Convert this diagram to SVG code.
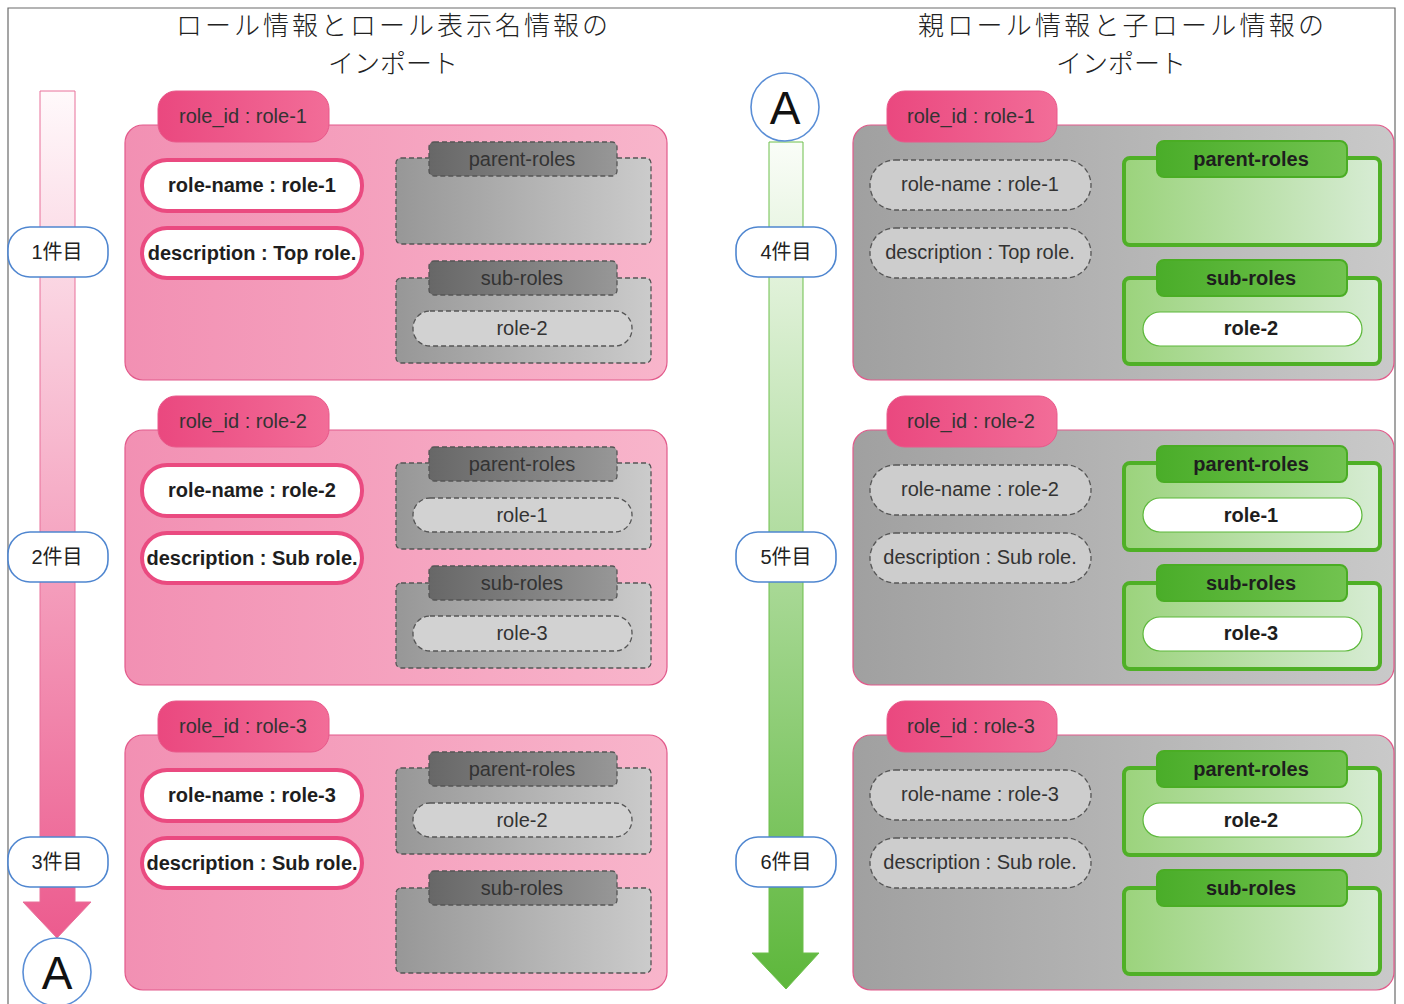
<svg xmlns="http://www.w3.org/2000/svg" width="1404" height="1004" viewBox="0 0 1404 1004">
<defs>
<linearGradient id="gPinkCard" x1="0" y1="0" x2="1" y2="0"><stop offset="0" stop-color="#f290b3"/><stop offset="1" stop-color="#f8b5cb"/></linearGradient>
<linearGradient id="gPinkTab" x1="0" y1="0" x2="1" y2="0"><stop offset="0" stop-color="#ea487f"/><stop offset="1" stop-color="#f26d98"/></linearGradient>
<linearGradient id="gGrayCard" x1="0" y1="0" x2="1" y2="0"><stop offset="0" stop-color="#a0a0a0"/><stop offset="1" stop-color="#c9c9c9"/></linearGradient>
<linearGradient id="gGrayBox" x1="0" y1="0" x2="1" y2="0"><stop offset="0" stop-color="#979797"/><stop offset="1" stop-color="#cbcbcb"/></linearGradient>
<linearGradient id="gGrayTab" x1="0" y1="0" x2="1" y2="0"><stop offset="0" stop-color="#676767"/><stop offset="1" stop-color="#979797"/></linearGradient>
<linearGradient id="gGreenBox" x1="0" y1="0" x2="1" y2="0"><stop offset="0" stop-color="#9bd37c"/><stop offset="1" stop-color="#d7ecd4"/></linearGradient>
<linearGradient id="gGreenTab" x1="0" y1="0" x2="1" y2="0"><stop offset="0" stop-color="#4aad29"/><stop offset="1" stop-color="#72c350"/></linearGradient>
<linearGradient id="gPinkArrow" gradientUnits="userSpaceOnUse" x1="0" y1="91" x2="0" y2="940"><stop offset="0" stop-color="#fff9fb"/><stop offset="1" stop-color="#ec5b8e"/></linearGradient>
<linearGradient id="gGreenArrow" gradientUnits="userSpaceOnUse" x1="0" y1="142" x2="0" y2="989"><stop offset="0" stop-color="#fafdf8"/><stop offset="1" stop-color="#5db73b"/></linearGradient>
<style>
.frame{fill:none;stroke:#6a6a6a;stroke-width:1.2}
.title{font-family:"Noto Sans CJK JP","Noto Sans",sans-serif;font-size:26px;font-weight:300;fill:#222;text-anchor:middle}
.t{font-family:"Liberation Sans",Arial,sans-serif;font-size:20px;fill:#333;text-anchor:middle}
.b{font-weight:bold;fill:#1e1e1e}
.jp{font-family:"Liberation Sans","Noto Sans CJK JP",sans-serif;font-size:20px;fill:#222;text-anchor:middle}
.bigA{font-family:"Liberation Sans",Arial,sans-serif;font-size:46px;fill:#111;text-anchor:middle}
.pinkCard{fill:url(#gPinkCard);stroke:#e25a8b;stroke-width:1.2}
.grayCard{fill:url(#gGrayCard);stroke:#e25a8b;stroke-width:1.2}
.pinkTab{fill:url(#gPinkTab);stroke:#e8588a;stroke-width:1}
.pinkPill{fill:#fff;stroke:#ea4a80;stroke-width:4}
.dashPill{fill:#cdcdcd;stroke:#555;stroke-width:1.3;stroke-dasharray:5 3}
.grayBox{fill:url(#gGrayBox);stroke:#555;stroke-width:1.3;stroke-dasharray:5 3}
.grayTab{fill:url(#gGrayTab);stroke:#555;stroke-width:1.3;stroke-dasharray:5 3}
.grayItem{fill:#d2d2d2;stroke:#555;stroke-width:1.3;stroke-dasharray:5 3}
.greenBox{fill:url(#gGreenBox);stroke:#4fb026;stroke-width:4}
.greenTab{fill:url(#gGreenTab);stroke:#4aad24;stroke-width:2}
.greenItem{fill:#fff;stroke:#5cb83a;stroke-width:1.2}
.label{fill:#fff;stroke:#4f86d0;stroke-width:1.6}
.circ{fill:#fff;stroke:#5a8ed6;stroke-width:1.6}
</style>
</defs>
<rect width="1404" height="1004" fill="#fff"/>
<path class="frame" d="M8,1004 V8 H1395 V1004"/>

<g id="title-left">
<text class="title" x="392" y="35" textLength="432" lengthAdjust="spacing">ロール情報とロール表示名情報の</text>
<text class="title" x="393" y="73">インポート</text>
</g>
<g id="title-right">
<text class="title" x="1121" y="35" textLength="406" lengthAdjust="spacing">親ロール情報と子ロール情報の</text>
<text class="title" x="1121" y="73">インポート</text>
</g>

<g id="connectors">
<path id="arrow-left" d="M40,91 H75 V902 H91 L57,938 L23,902 H40 Z" fill="url(#gPinkArrow)" stroke="#e8709a" stroke-width="1"/>
<path id="arrow-right" d="M769,142 H803 V953 H819 L786,989 L752,953 H769 Z" fill="url(#gGreenArrow)" stroke="#6cbf4b" stroke-width="1"/>
</g>

<g id="circle-A-bottom"><circle class="circ" cx="57" cy="972" r="34"/><text class="bigA" x="57" y="989">A</text></g>
<g id="circle-A-top"><circle class="circ" cx="785" cy="107" r="34"/><text class="bigA" x="785" y="124">A</text></g>

<g id="label-1"><rect class="label" x="8" y="227" width="100" height="50" rx="22"/><text class="jp" x="57" y="259">1件目</text></g>
<g id="label-2"><rect class="label" x="8" y="532" width="100" height="50" rx="22"/><text class="jp" x="57" y="564">2件目</text></g>
<g id="label-3"><rect class="label" x="8" y="837" width="100" height="50" rx="22"/><text class="jp" x="57" y="869">3件目</text></g>
<g id="label-4"><rect class="label" x="736" y="227" width="100" height="50" rx="22"/><text class="jp" x="786" y="259">4件目</text></g>
<g id="label-5"><rect class="label" x="736" y="532" width="100" height="50" rx="22"/><text class="jp" x="786" y="564">5件目</text></g>
<g id="label-6"><rect class="label" x="736" y="837" width="100" height="50" rx="22"/><text class="jp" x="786" y="869">6件目</text></g>

<!-- Left cards -->
<g id="left-role-1">
<rect class="pinkCard" x="125" y="125" width="542" height="255" rx="18"/>
<rect class="pinkTab" x="158" y="91" width="171" height="51" rx="18"/>
<text class="t" x="243" y="123">role_id : role-1</text>
<rect class="pinkPill" x="142" y="160" width="220" height="51" rx="25"/>
<text class="t b" x="252" y="192">role-name : role-1</text>
<rect class="pinkPill" x="142" y="228" width="220" height="50" rx="25"/>
<text class="t b" x="252" y="260">description : Top role.</text>
<rect class="grayBox" x="396" y="158" width="255" height="86" rx="5"/>
<rect class="grayTab" x="429" y="142" width="188" height="34" rx="5"/>
<text class="t" x="522" y="166">parent-roles</text>
<rect class="grayBox" x="396" y="278" width="255" height="85" rx="5"/>
<rect class="grayTab" x="429" y="261" width="188" height="34" rx="5"/>
<text class="t" x="522" y="285">sub-roles</text>
<rect class="grayItem" x="413" y="311" width="219" height="35" rx="17"/>
<text class="t" x="522" y="335">role-2</text>
</g>

<g id="left-role-2" transform="translate(0,305)">
<rect class="pinkCard" x="125" y="125" width="542" height="255" rx="18"/>
<rect class="pinkTab" x="158" y="91" width="171" height="51" rx="18"/>
<text class="t" x="243" y="123">role_id : role-2</text>
<rect class="pinkPill" x="142" y="160" width="220" height="51" rx="25"/>
<text class="t b" x="252" y="192">role-name : role-2</text>
<rect class="pinkPill" x="142" y="228" width="220" height="50" rx="25"/>
<text class="t b" x="252" y="260">description : Sub role.</text>
<rect class="grayBox" x="396" y="158" width="255" height="86" rx="5"/>
<rect class="grayTab" x="429" y="142" width="188" height="34" rx="5"/>
<text class="t" x="522" y="166">parent-roles</text>
<rect class="grayItem" x="413" y="193" width="219" height="34" rx="17"/>
<text class="t" x="522" y="217">role-1</text>
<rect class="grayBox" x="396" y="278" width="255" height="85" rx="5"/>
<rect class="grayTab" x="429" y="261" width="188" height="34" rx="5"/>
<text class="t" x="522" y="285">sub-roles</text>
<rect class="grayItem" x="413" y="311" width="219" height="35" rx="17"/>
<text class="t" x="522" y="335">role-3</text>
</g>

<g id="left-role-3" transform="translate(0,610)">
<rect class="pinkCard" x="125" y="125" width="542" height="255" rx="18"/>
<rect class="pinkTab" x="158" y="91" width="171" height="51" rx="18"/>
<text class="t" x="243" y="123">role_id : role-3</text>
<rect class="pinkPill" x="142" y="160" width="220" height="51" rx="25"/>
<text class="t b" x="252" y="192">role-name : role-3</text>
<rect class="pinkPill" x="142" y="228" width="220" height="50" rx="25"/>
<text class="t b" x="252" y="260">description : Sub role.</text>
<rect class="grayBox" x="396" y="158" width="255" height="86" rx="5"/>
<rect class="grayTab" x="429" y="142" width="188" height="34" rx="5"/>
<text class="t" x="522" y="166">parent-roles</text>
<rect class="grayItem" x="413" y="193" width="219" height="34" rx="17"/>
<text class="t" x="522" y="217">role-2</text>
<rect class="grayBox" x="396" y="278" width="255" height="85" rx="5"/>
<rect class="grayTab" x="429" y="261" width="188" height="34" rx="5"/>
<text class="t" x="522" y="285">sub-roles</text>
</g>

<!-- Right cards -->
<g id="right-role-1">
<rect class="grayCard" x="853" y="125" width="541" height="255" rx="18"/>
<rect class="pinkTab" x="887" y="91" width="170" height="51" rx="18"/>
<text class="t" x="971" y="123">role_id : role-1</text>
<rect class="dashPill" x="870" y="160" width="221" height="50" rx="25"/>
<text class="t" x="980" y="191">role-name : role-1</text>
<rect class="dashPill" x="870" y="228" width="221" height="50" rx="25"/>
<text class="t" x="980" y="259">description : Top role.</text>
<rect class="greenBox" x="1124" y="158" width="256" height="87" rx="6"/>
<rect class="greenTab" x="1157" y="141" width="190" height="36" rx="7"/>
<text class="t b" x="1251" y="166">parent-roles</text>
<rect class="greenBox" x="1124" y="278" width="256" height="86" rx="6"/>
<rect class="greenTab" x="1157" y="260" width="190" height="36" rx="7"/>
<text class="t b" x="1251" y="285">sub-roles</text>
<rect class="greenItem" x="1143" y="312" width="219" height="34" rx="17"/>
<text class="t b" x="1251" y="335">role-2</text>
</g>

<g id="right-role-2" transform="translate(0,305)">
<rect class="grayCard" x="853" y="125" width="541" height="255" rx="18"/>
<rect class="pinkTab" x="887" y="91" width="170" height="51" rx="18"/>
<text class="t" x="971" y="123">role_id : role-2</text>
<rect class="dashPill" x="870" y="160" width="221" height="50" rx="25"/>
<text class="t" x="980" y="191">role-name : role-2</text>
<rect class="dashPill" x="870" y="228" width="221" height="50" rx="25"/>
<text class="t" x="980" y="259">description : Sub role.</text>
<rect class="greenBox" x="1124" y="158" width="256" height="87" rx="6"/>
<rect class="greenTab" x="1157" y="141" width="190" height="36" rx="7"/>
<text class="t b" x="1251" y="166">parent-roles</text>
<rect class="greenItem" x="1143" y="193" width="219" height="34" rx="17"/>
<text class="t b" x="1251" y="217">role-1</text>
<rect class="greenBox" x="1124" y="278" width="256" height="86" rx="6"/>
<rect class="greenTab" x="1157" y="260" width="190" height="36" rx="7"/>
<text class="t b" x="1251" y="285">sub-roles</text>
<rect class="greenItem" x="1143" y="312" width="219" height="34" rx="17"/>
<text class="t b" x="1251" y="335">role-3</text>
</g>

<g id="right-role-3" transform="translate(0,610)">
<rect class="grayCard" x="853" y="125" width="541" height="255" rx="18"/>
<rect class="pinkTab" x="887" y="91" width="170" height="51" rx="18"/>
<text class="t" x="971" y="123">role_id : role-3</text>
<rect class="dashPill" x="870" y="160" width="221" height="50" rx="25"/>
<text class="t" x="980" y="191">role-name : role-3</text>
<rect class="dashPill" x="870" y="228" width="221" height="50" rx="25"/>
<text class="t" x="980" y="259">description : Sub role.</text>
<rect class="greenBox" x="1124" y="158" width="256" height="87" rx="6"/>
<rect class="greenTab" x="1157" y="141" width="190" height="36" rx="7"/>
<text class="t b" x="1251" y="166">parent-roles</text>
<rect class="greenItem" x="1143" y="193" width="219" height="34" rx="17"/>
<text class="t b" x="1251" y="217">role-2</text>
<rect class="greenBox" x="1124" y="278" width="256" height="86" rx="6"/>
<rect class="greenTab" x="1157" y="260" width="190" height="36" rx="7"/>
<text class="t b" x="1251" y="285">sub-roles</text>
</g>
</svg>
